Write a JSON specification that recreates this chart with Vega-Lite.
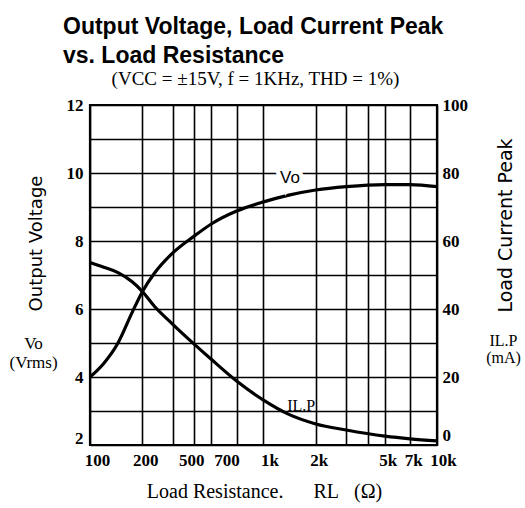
{
  "$schema": "https://vega.github.io/schema/vega-lite/v6.json",
  "width": 347,
  "height": 340,
  "autosize": {"type": "none"},
  "padding": {"left": 90, "top": 105, "right": 88, "bottom": 63},
  "background": "white",
  "config": {"view": {"stroke": "black", "strokeWidth": 2.2}},
  "title": {
    "text": ["Output Voltage, Load Current Peak", "vs. Load Resistance"],
    "anchor": "start",
    "frame": "group",
    "dx": -27,
    "offset": 1,
    "font": "Liberation Sans",
    "fontWeight": "bold",
    "fontSize": 23,
    "lineHeight": 29,
    "color": "black"
  },
  "datasets": {
    "curves": [
      {"R": 100, "Vo": 4.0, "ILP": 53.7},
      {"R": 120, "Vo": 4.4, "ILP": 52.3},
      {"R": 145, "Vo": 5.0, "ILP": 50.7},
      {"R": 175, "Vo": 5.9, "ILP": 48.0},
      {"R": 200, "Vo": 6.5, "ILP": 45.2},
      {"R": 235, "Vo": 7.05, "ILP": 40.8},
      {"R": 300, "Vo": 7.65, "ILP": 35.5},
      {"R": 400, "Vo": 8.15, "ILP": 29.6},
      {"R": 500, "Vo": 8.5, "ILP": 25.2},
      {"R": 700, "Vo": 8.88, "ILP": 18.8},
      {"R": 1000, "Vo": 9.15, "ILP": 13.2},
      {"R": 1400, "Vo": 9.35, "ILP": 9.0},
      {"R": 2000, "Vo": 9.5, "ILP": 6.2},
      {"R": 3000, "Vo": 9.6, "ILP": 4.4},
      {"R": 5000, "Vo": 9.66, "ILP": 2.6},
      {"R": 7000, "Vo": 9.66, "ILP": 1.8},
      {"R": 10000, "Vo": 9.6, "ILP": 1.2}
    ],
    "voLabel": [{"R": 1420, "V": 9.85, "text": "Vo"}],
    "ilpLabel": [{"R": 1650, "I": 11.5, "text": "IL.P"}]
  },
  "layer": [
    {
      "data": {"name": "curves"},
      "mark": {"type": "line", "interpolate": "monotone", "color": "black", "strokeWidth": 3.2},
      "encoding": {
        "x": {
          "field": "R",
          "type": "quantitative",
          "scale": {"type": "log", "domain": [100, 10000], "nice": false},
          "axis": {
            "orient": "bottom",
            "values": [100, 200, 300, 400, 500, 700, 1000, 2000, 3000, 4000, 5000, 7000, 10000],
            "labelExpr": "indexof([300,400,3000,4000], datum.value) >= 0 ? '' : (datum.value >= 1000 ? (datum.value/1000) + 'k' : '' + datum.value)",
            "labelOffset": {"expr": "datum.value == 500 ? -20 : datum.value == 700 ? -10 : datum.value == 100 ? 7 : datum.value == 1000 ? 6 : datum.value == 10000 ? 6 : 3"},
            "grid": true,
            "gridColor": "black",
            "gridWidth": 1.6,
            "gridOpacity": 1,
            "ticks": false,
            "domain": false,
            "labelFlush": false,
            "labelOverlap": false,
            "labelBound": false,
            "labelFont": "Liberation Serif",
            "labelFontWeight": "bold",
            "labelFontSize": 17,
            "labelColor": "black",
            "labelPadding": 7,
            "title": "Load Resistance.\u00a0\u00a0\u00a0\u00a0\u00a0\u00a0RL\u00a0\u00a0\u00a0(Ω)",
            "titleFont": "Liberation Serif",
            "titleFontWeight": "normal",
            "titleFontSize": 20,
            "titleColor": "black",
            "titleX": 174,
            "titleY": 52,
            "titleAlign": "center",
            "titleBaseline": "alphabetic"
          }
        },
        "y": {
          "field": "Vo",
          "type": "quantitative",
          "scale": {"domain": [2, 12], "nice": false, "zero": false},
          "axis": {
            "orient": "left",
            "values": [2, 3, 4, 5, 6, 7, 8, 9, 10, 11, 12],
            "labelExpr": "datum.value % 2 == 0 ? datum.label : ''",
            "labelOffset": {"expr": "datum.value == 2 ? -7 : 0"},
            "grid": true,
            "gridColor": "black",
            "gridWidth": 1.6,
            "gridOpacity": 1,
            "ticks": false,
            "domain": false,
            "labelFlush": false,
            "labelFont": "Liberation Serif",
            "labelFontWeight": "bold",
            "labelFontSize": 17,
            "labelColor": "black",
            "labelPadding": 7,
            "title": "Output Voltage",
            "titleFont": "DejaVu Sans",
            "titleFontWeight": "normal",
            "titleFontSize": 18,
            "titleColor": "black",
            "titleAngle": 270,
            "titleX": -49,
            "titleY": 138,
            "titleAlign": "center",
            "titleBaseline": "alphabetic"
          }
        }
      }
    },
    {
      "data": {"name": "curves"},
      "mark": {"type": "line", "interpolate": "monotone", "color": "black", "strokeWidth": 3.2},
      "encoding": {
        "x": {
          "field": "R",
          "type": "quantitative",
          "scale": {"type": "log", "domain": [100, 10000], "nice": false},
          "axis": {
            "orient": "top",
            "labels": false,
            "ticks": false,
            "domain": false,
            "grid": false,
            "title": "(VCC = ±15V,  f = 1KHz,  THD = 1%)",
            "titleFont": "Liberation Serif",
            "titleFontWeight": "normal",
            "titleFontSize": 19,
            "titleColor": "black",
            "titleX": 165,
            "titleY": -21,
            "titleAlign": "center",
            "titleBaseline": "alphabetic"
          }
        },
        "y": {
          "field": "ILP",
          "type": "quantitative",
          "scale": {"domain": [0, 100], "nice": false},
          "axis": {
            "orient": "right",
            "values": [0, 20, 40, 60, 80, 100],
            "labelOffset": {"expr": "datum.value == 0 ? -10 : 0"},
            "grid": false,
            "ticks": false,
            "domain": false,
            "labelFlush": false,
            "labelFont": "Liberation Serif",
            "labelFontWeight": "bold",
            "labelFontSize": 17,
            "labelColor": "black",
            "labelPadding": 5,
            "title": "Load Current Peak",
            "titleFont": "DejaVu Sans",
            "titleFontWeight": "normal",
            "titleFontSize": 19,
            "titleColor": "black",
            "titleAngle": 270,
            "titleX": 74,
            "titleY": 120,
            "titleAlign": "center",
            "titleBaseline": "alphabetic"
          }
        }
      }
    },
    {
      "data": {"name": "voLabel"},
      "mark": {"type": "text", "font": "Liberation Sans", "fontSize": 17, "fill": "white", "stroke": "white", "strokeWidth": 9},
      "encoding": {
        "x": {"field": "R", "type": "quantitative", "scale": {"type": "log", "domain": [100, 10000], "nice": false}, "axis": null},
        "y": {
          "field": "V",
          "type": "quantitative",
          "scale": {"domain": [2, 12], "nice": false, "zero": false},
          "axis": {
            "orient": "left",
            "labels": false,
            "ticks": false,
            "domain": false,
            "grid": false,
            "title": ["Vo", "(Vrms)"],
            "titleFont": "Liberation Serif",
            "titleFontWeight": "normal",
            "titleFontSize": 17,
            "titleColor": "black",
            "titleAngle": 0,
            "titleX": -57,
            "titleY": 243,
            "titleAlign": "center",
            "titleBaseline": "alphabetic",
            "titleLineHeight": 19
          }
        },
        "text": {"field": "text"}
      }
    },
    {
      "data": {"name": "voLabel"},
      "mark": {"type": "text", "font": "Liberation Sans", "fontSize": 17, "color": "black"},
      "encoding": {
        "x": {"field": "R", "type": "quantitative", "scale": {"type": "log", "domain": [100, 10000], "nice": false}, "axis": null},
        "y": {
          "field": "V",
          "type": "quantitative",
          "scale": {"domain": [2, 12], "nice": false, "zero": false},
          "axis": null
        },
        "text": {"field": "text"}
      }
    },
    {
      "data": {"name": "ilpLabel"},
      "mark": {"type": "text", "font": "Liberation Serif", "fontSize": 16, "color": "black"},
      "encoding": {
        "x": {"field": "R", "type": "quantitative", "scale": {"type": "log", "domain": [100, 10000], "nice": false}, "axis": null},
        "y": {
          "field": "I",
          "type": "quantitative",
          "scale": {"domain": [0, 100], "nice": false},
          "axis": {
            "orient": "right",
            "labels": false,
            "ticks": false,
            "domain": false,
            "grid": false,
            "title": ["IL.P", "(mA)"],
            "titleFont": "Liberation Serif",
            "titleFontWeight": "normal",
            "titleFontSize": 16,
            "titleColor": "black",
            "titleAngle": 0,
            "titleX": 66,
            "titleY": 240,
            "titleAlign": "center",
            "titleBaseline": "alphabetic",
            "titleLineHeight": 17
          }
        },
        "text": {"field": "text"}
      }
    }
  ],
  "resolve": {"scale": {"y": "independent"}, "axis": {"x": "independent"}}
}
